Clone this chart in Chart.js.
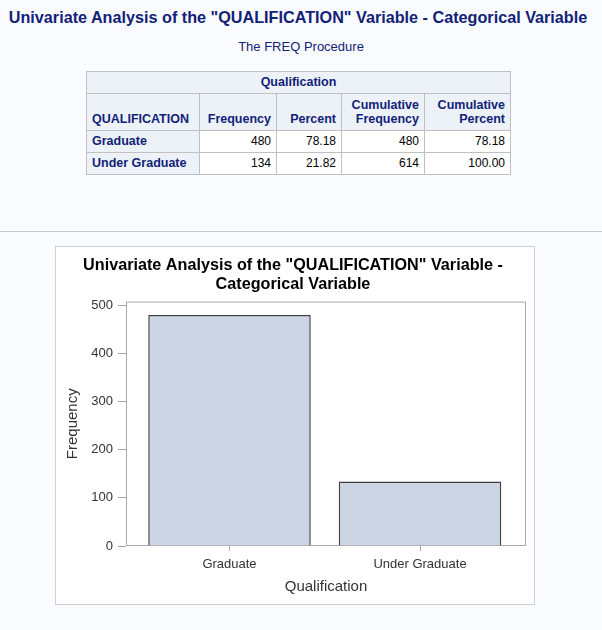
<!DOCTYPE html>
<html lang="en">
<head>
    <meta charset="UTF-8">
    <title>Univariate Analysis - QUALIFICATION</title>
    <script src="https://cdn.jsdelivr.net/npm/chart.js"></script>
    <style>
        body {
            margin: 0;
            background-color: #fafbfe;
            font-family: "Liberation Sans", Arial, sans-serif;
            width: 602px;
            height: 630px;
            position: relative;
            overflow: hidden;
        }
        .page-title {
            position: absolute;
            left: -3px;
            width: 602px;
            top: 8px;
            margin: 0;
            text-align: center;
            font-size: 16.2px;
            font-weight: bold;
            color: #112277;
        }
        .proc-title {
            position: absolute;
            left: 0;
            width: 602px;
            top: 39px;
            text-align: center;
            font-size: 13px;
            color: #112277;
        }
        table {
            position: absolute;
            left: 86px;
            top: 71px;
            border-collapse: collapse;
            font-size: 12.5px;
            color: #112277;
        }
        td, th {
            border: 1px solid #c1c1c1;
            padding: 0 5px 2px 5px;
        }
        th {
            background-color: #edf2f9;
            font-weight: bold;
            vertical-align: bottom;
            text-align: right;
        }
        th.left { text-align: left; }
        th.center { text-align: center; }
        tr.head th { padding-bottom: 4px; }
        td {
            background-color: #ffffff;
            color: #000000;
            font-size: 12px;
            text-align: right;
        }
        .rule {
            position: absolute;
            left: 0;
            top: 231px;
            width: 602px;
            height: 1px;
            background-color: #c6c6c6;
        }
        .chart-box {
            position: absolute;
            left: 55px;
            top: 246px;
            width: 478px;
            height: 357px;
            border: 1px solid #d0d0d0;
            background-color: #ffffff;
        }
    </style>
</head>
<body>
    <h1 class="page-title">Univariate Analysis of the "QUALIFICATION" Variable - Categorical Variable</h1>
    <div class="proc-title">The FREQ Procedure</div>
    <table id="freqTable"></table>
    <div class="rule"></div>
    <div class="chart-box">
        <canvas id="barChart" width="478" height="357"></canvas>
    </div>

    <script>
        const categories = ['Graduate', 'Under Graduate'];
        const frequency = [480, 134];
        const percent = ['78.18', '21.82'];
        const cumFrequency = [480, 614];
        const cumPercent = ['78.18', '100.00'];
        const yTicks = [0, 100, 200, 300, 400, 500];

        // frequency table
        const colWidths = [113, 77, 65, 83, 86];
        let html = '<colgroup>' + colWidths.map(w => `<col style="width:${w}px">`).join('') + '</colgroup>';
        html += '<tr style="height:22px"><th class="center" colspan="5" style="vertical-align:middle">Qualification</th></tr>';
        html += '<tr class="head" style="height:37px"><th class="left">QUALIFICATION</th><th>Frequency</th><th>Percent</th>' +
                '<th>Cumulative<br>Frequency</th><th>Cumulative<br>Percent</th></tr>';
        categories.forEach((c, i) => {
            html += `<tr style="height:22px"><th class="left" style="vertical-align:middle">${c}</th><td>${frequency[i]}</td>` +
                    `<td>${percent[i]}</td><td>${cumFrequency[i]}</td><td>${cumPercent[i]}</td></tr>`;
        });
        document.getElementById('freqTable').innerHTML = html;

        // frame around the plot area
        const frame = {
            id: 'frame',
            beforeDatasetsDraw(chart) {
                const a = chart.chartArea;
                const ctx = chart.ctx;
                ctx.save();
                ctx.strokeStyle = '#a9a9a9';
                ctx.lineWidth = 1;
                ctx.strokeRect(a.left + 0.5, a.top + 0.5, a.right - a.left - 1, a.bottom - a.top - 1);
                ctx.restore();
            }
        };

        const font = '"Liberation Sans", Arial, sans-serif';
        const ctx = document.getElementById('barChart').getContext('2d');
        new Chart(ctx, {
            type: 'bar',
            data: {
                datasets: [{
                    label: 'Frequency',
                    data: categories.map((c, i) => ({ x: i, y: frequency[i] })),
                    backgroundColor: '#cbd5e4',
                    borderColor: '#404040',
                    borderWidth: 1.5,
                    barPercentage: 0.853,
                    categoryPercentage: 1
                }]
            },
            options: {
                responsive: false,
                animation: false,
                layout: { padding: { left: 4, right: 8, top: 0, bottom: 0 } },
                plugins: {
                    legend: { display: false },
                    tooltip: { enabled: false },
                    title: {
                        display: true,
                        text: ['Univariate Analysis of the "QUALIFICATION" Variable -', 'Categorical Variable'],
                        color: '#000000',
                        font: { family: font, size: 16.2, weight: 'bold', lineHeight: 1.19 },
                        padding: { top: 9, bottom: 7 }
                    }
                },
                scales: {
                    x: {
                        type: 'linear',
                        offset: false,
                        min: -0.5433,
                        max: 1.5564,
                        afterBuildTicks: scale => { scale.ticks = categories.map((c, i) => ({ value: i })); },
                        afterFit: scale => { scale.height = 58; },
                        ticks: {
                            callback: v => categories[v],
                            color: '#333333',
                            font: { family: font, size: 13 },
                            padding: 6,
                            maxRotation: 0,
                            autoSkip: false
                        },
                        grid: { drawOnChartArea: false, offset: false, color: '#a9a9a9', tickLength: 5 },
                        border: { display: false },
                        title: {
                            display: true,
                            text: 'Qualification',
                            color: '#333333',
                            font: { family: font, size: 15 },
                            padding: { top: 0, bottom: 8 }
                        }
                    },
                    y: {
                        min: 0,
                        max: 508,
                        afterBuildTicks: scale => { scale.ticks = yTicks.map(v => ({ value: v })); },
                        afterFit: scale => { scale.width = 66; },
                        ticks: {
                            color: '#333333',
                            font: { family: font, size: 13 },
                            padding: 5
                        },
                        grid: { drawOnChartArea: false, color: '#a9a9a9', tickLength: 8 },
                        border: { display: false },
                        title: {
                            display: true,
                            text: 'Frequency',
                            color: '#333333',
                            font: { family: font, size: 15 },
                            padding: { top: 4, bottom: 0 }
                        }
                    }
                }
            },
            plugins: [frame]
        });
    </script>
</body>
</html>
